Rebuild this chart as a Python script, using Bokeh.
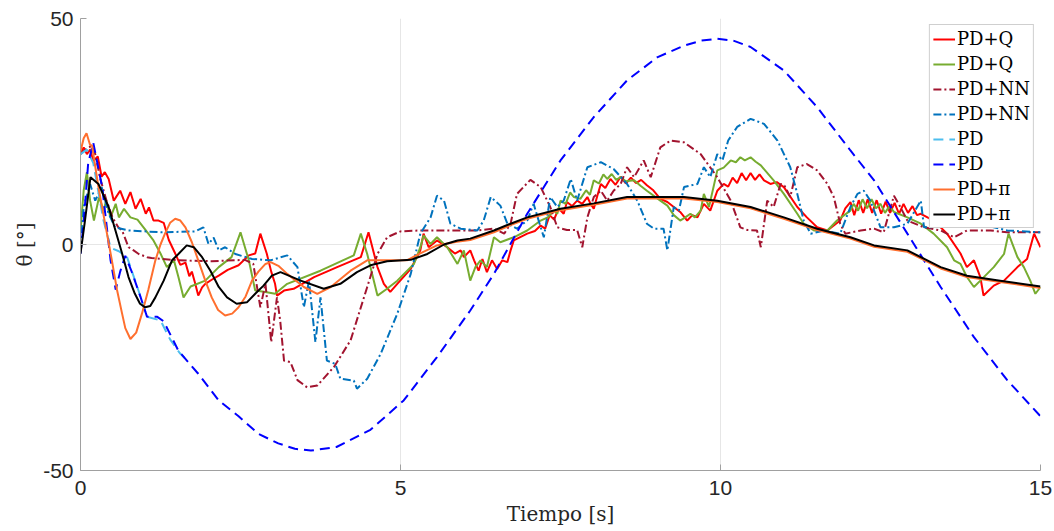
from bokeh.plotting import figure
from bokeh.models import Range1d, FixedTicker, Legend, LegendItem, PrintfTickFormatter
from bokeh.embed import file_html
from bokeh.resources import INLINE

# ---- data ----
t_red = [0.00,0.05,0.10,0.15,0.20,0.27,0.33,0.38,0.44,0.52,0.62,0.70,0.78,0.86,0.94,1.02,1.07,1.14,1.22,1.30,1.38,1.48,1.56,1.64,1.70,1.74,1.79,1.84,1.90,1.95,2.05,2.16,2.30,2.47,2.63,2.73,2.81,2.91,2.98,3.04,3.07,3.18,3.33,3.65,4.01,4.38,4.50,4.64,4.74,4.84,4.95,5.16,5.31,5.36,5.44,5.57,5.73,5.85,5.94,5.99,6.09,6.15,6.22,6.28,6.35,6.43,6.51,6.59,6.67,6.72,6.77,6.98,7.10,7.19,7.26,7.33,7.40,7.47,7.55,7.60,7.68,7.76,7.84,7.92,7.97,8.02,8.08,8.13,8.20,8.28,8.36,8.44,8.52,8.60,8.68,8.76,8.85,8.95,9.06,9.17,9.27,9.37,9.48,9.56,9.64,9.74,9.84,9.95,10.05,10.12,10.19,10.26,10.33,10.40,10.47,10.54,10.61,10.68,10.78,10.88,10.99,11.20,11.35,11.51,11.67,11.77,11.87,11.95,12.03,12.09,12.16,12.23,12.30,12.37,12.44,12.51,12.58,12.65,12.72,12.79,12.86,12.93,13.00,13.07,13.13,13.33,13.54,13.75,13.85,13.96,14.06,14.11,14.27,14.43,14.64,14.79,14.90,15.00]
v_red = [20,21.5,20,21,18.5,19.5,15,16,14.5,9.7,11.9,9.0,11.6,7.9,10.1,6.8,8.2,5.3,5.3,4.8,1,-2,-4.5,-4,-7,-6,-8.5,-11.3,-9.5,-8.7,-7.8,-6.9,-5.6,-4.6,-2.4,-2,2.4,-2,-6,-8.7,-11.3,-10.2,-9.8,-7.2,-5,-2.8,2.7,-5,-8.7,-10.5,-8.7,-5.4,-1.3,2.4,-0.6,0.9,-0.6,-2,-1.3,-2.8,-1.3,-3.5,-5.8,-3.2,-6.1,-3.5,-5.4,-3.5,-3.9,-1.3,0.9,2.4,3.0,4.2,3.5,6.5,5.5,8,6.8,9.4,8.5,9.7,9.0,10.5,9,7.9,11,13.4,12.5,14.5,13.2,15,13.5,14.8,13.6,14.3,13.1,12,10.1,9.4,8.3,7.2,5.3,6.5,6.0,9,7.5,11.9,13.4,12.8,14.8,13.6,15.8,14.2,15.8,14.3,15.5,14.2,13.4,13.8,12.7,8.3,6,3.8,3.1,4.2,5.3,8,9.4,6.5,9.8,7,10,7,9.8,6.8,9.5,7,9.2,6.8,9,7,8.5,6.5,6.8,5.3,2.4,-2,-5,-3.5,-7.2,-11.3,-9.1,-8,-5,-3.2,2.4,-0.6]

t_green = [0,0.05,0.10,0.15,0.21,0.29,0.36,0.40,0.47,0.55,0.60,0.68,0.78,0.89,1.0,1.14,1.25,1.35,1.46,1.53,1.61,1.72,1.95,2.16,2.36,2.50,2.63,2.73,2.89,3.04,3.23,3.75,4.27,4.38,4.48,4.64,4.79,4.95,5.21,5.31,5.36,5.47,5.57,5.73,5.89,5.99,6.09,6.17,6.25,6.35,6.46,6.56,6.77,6.98,7.19,7.30,7.40,7.45,7.50,7.58,7.65,7.71,7.81,7.90,7.96,8.02,8.10,8.17,8.23,8.30,8.37,8.44,8.52,8.65,8.75,8.85,9.06,9.17,9.27,9.37,9.45,9.53,9.60,9.69,9.74,9.82,9.95,10.05,10.16,10.24,10.31,10.38,10.47,10.55,10.63,10.83,10.99,11.2,11.3,11.46,11.67,11.82,12.03,12.08,12.15,12.22,12.29,12.36,12.43,12.50,12.57,12.64,12.71,12.92,13.13,13.33,13.54,13.65,13.75,13.85,13.96,14.06,14.27,14.43,14.50,14.64,14.74,14.84,14.92,15.0]
v_green = [3,12,16,9.7,5.3,10.5,7.5,9.6,6,9,6,7.9,6,5.5,3.5,0.9,-2,-5,-3.5,-7.2,-11.7,-9.3,-8,-5,-2.8,2.7,-3.5,-10.2,-10.5,-10.9,-8.7,-5.8,-2.4,2.4,-2.1,-11.3,-9.8,-8,-4.3,-0.6,2,0.1,1.6,-0.6,-4.3,-1.3,-8,-5,-3.5,-5,1.6,0.5,1.6,3.1,5.3,6,7.5,6.8,9.7,9,11.5,10.5,10.1,12,11,14.2,13.5,15.5,14.5,15.6,14.3,14.9,14,14.2,13,11.9,9.7,8.6,6.5,5.3,6,6.8,6,7.5,11.2,8.3,16.4,17,18.6,18.2,19.3,18.6,19.3,18.3,17.5,14.2,11.2,6.8,4.6,3.1,3.1,5.3,7.5,9,7.5,10,8,10,8,9,7,8.5,7.2,6,4.6,2.4,-0.6,-3.5,-4.3,-7.2,-9.4,-8,-5,-2.1,2.4,-2.8,-5,-8,-10.9,-9.4]

t_maroon = [0,0.08,0.13,0.18,0.23,0.31,0.40,0.50,0.59,0.65,0.75,0.83,0.91,1.04,1.11,1.53,2.05,2.57,2.70,2.81,2.89,2.98,3.07,3.12,3.18,3.28,3.39,3.54,3.70,3.96,4.22,4.48,4.64,4.79,5.0,5.31,5.78,6.2,6.46,6.62,6.72,6.82,7.03,7.19,7.34,7.45,7.6,7.76,7.84,7.92,8.02,8.13,8.23,8.33,8.44,8.54,8.65,8.80,8.91,9.06,9.22,9.43,9.69,9.95,10.16,10.31,10.42,10.57,10.63,10.73,10.83,10.94,11.0,11.09,11.2,11.35,11.51,11.67,11.77,11.87,11.95,12.19,12.4,12.55,12.71,12.81,12.92,13.18,13.44,13.65,13.85,14.22,14.48,15.0]
v_maroon = [20,21,21.5,21.8,20,14.5,10,6,3.8,3.1,-0.6,-1.3,-2.1,-2.8,-3,-3.5,-3.7,-3.4,-4.3,-13.9,-8.7,-21.6,-11.7,-16.8,-25.7,-26,-30,-31.6,-31.2,-27.1,-21.2,-9.4,-2.1,1.6,2.9,3.1,3.1,3.1,3.5,2.4,4.6,11.2,14.3,12.7,8.3,3.8,3.2,3.2,-0.6,6,10.5,11.9,9.7,11.9,13.4,17.1,14.9,18.6,14.9,21.5,23,22.6,20,14.9,9.7,3.8,3.2,3.1,-0.6,9.7,8.3,13.4,13,10.5,17.1,17.8,16.4,13.4,10.5,4.6,2.4,3.1,3.5,2.7,10.8,8.3,5.3,3.8,3.1,1.6,3.1,3.1,2.7,2.7]

t_blue = [0,0.05,0.15,0.23,0.33,0.44,0.54,0.75,1.27,1.79,1.92,2.0,2.08,2.16,2.26,2.42,2.68,2.97,3.23,3.39,3.49,3.57,3.67,3.75,3.85,3.98,4.06,4.27,4.32,4.48,4.69,4.95,5.16,5.31,5.47,5.57,5.68,5.78,5.94,6.2,6.3,6.41,6.56,6.67,6.82,6.98,7.08,7.19,7.24,7.34,7.45,7.55,7.66,7.76,7.92,8.13,8.33,8.54,8.7,8.85,8.96,9.11,9.17,9.27,9.35,9.43,9.64,9.74,9.84,9.95,10.03,10.12,10.26,10.47,10.68,10.89,11.09,11.2,11.3,11.41,11.62,11.87,12.03,12.14,12.24,12.34,12.5,12.71,12.92,13.13,13.18,13.33,13.45,13.54,13.65,13.75,13.9,14.06,14.27,14.48,15.0]
v_blue = [-1,8.3,13.4,9.7,12.7,6.8,3.8,3.1,2.7,2.9,3.8,0.1,1.5,-1.3,-0.6,-2.1,-3.2,-3.5,-2.4,-5,-13.9,-8,-21.6,-11.7,-25.7,-26.4,-29.7,-30.1,-31.9,-29.7,-24.2,-15.3,-6.5,2.4,6,10.8,9.7,4.6,3.5,3.1,5.3,10.5,8.6,4.6,3.5,5.3,9,3.8,1.6,10.5,8.3,9.7,14.5,9.7,17.1,18.2,16.7,13.4,9.7,4.6,3.5,3.5,-1.3,8.3,7.5,12.7,13.4,17.1,14.9,20,18.6,23,26,27.8,26.7,23,17.1,11.2,5.3,2.4,3.1,2.4,8.3,11.2,11.9,9.7,3.8,3.8,4.6,9.7,3.8,3.8,6,4,6.5,4.6,6,4.6,3.8,3.1,2.7]

t_lblue = [0,0.1,0.2,0.3,0.36,0.47,0.6,0.73,0.89,1.04,1.25,1.4,1.55,1.67]
v_lblue = [20,21,18,10,5.3,-0.7,-1.5,-2.9,-9.5,-16,-16.8,-21,-24,-25.7]

t_dblue = [0,0.05,0.12,0.2,0.34,0.47,0.55,0.62,0.7,0.8,0.94,1.04,1.2,1.3,1.53,1.84,2.16,2.47,2.78,3.09,3.35,3.6,4.0,4.53,5.05,5.57,6.09,6.46,6.98,7.5,8.02,8.54,9.01,9.43,9.7,9.95,10.2,10.47,10.99,11.51,12.03,12.4,12.92,13.44,13.96,14.48,15.0]
v_dblue = [-2,5,18,22.5,12.6,-3.5,-10,-6,-2.5,-6,-11.7,-16,-16,-17,-23.5,-28.6,-34.5,-38,-41.9,-44,-45.2,-45.6,-44.8,-41,-34.5,-24.9,-14.6,-6.5,6.8,18.6,28.2,36.3,41.4,44,45.1,45.5,45.1,43.7,38.5,30.4,20.8,14.2,2.4,-9.4,-20.5,-30,-38]

t_orange = [0,0.05,0.094,0.15,0.18,0.28,0.38,0.49,0.57,0.65,0.70,0.78,0.87,0.96,1.06,1.17,1.25,1.32,1.40,1.48,1.56,1.64,1.74,1.84,1.95,2.05,2.15,2.26,2.37,2.47,2.58,2.68,2.78,2.89,2.97,3.1,3.23,3.49,3.7,3.91,4.22,4.48,4.79,5.1,5.3,5.57,5.88,6.09,6.46,6.72,6.98,7.5,8.02,8.54,9.06,9.43,9.95,10.47,10.99,11.51,12.03,12.4,12.92,13.44,13.85,14.37,15.0]
v_orange = [20.6,23.5,24.6,22,21.9,12.7,5,-3.5,-10,-15.3,-18.5,-20.9,-19.5,-15.3,-10,-3.5,0,2.4,4.8,5.7,5.3,3.8,0.5,-3.5,-8,-11.7,-14.5,-15.7,-15.3,-13.9,-11.5,-8,-6,-4.3,-3.9,-4.8,-6.5,-9.4,-10.9,-9.4,-5.8,-3.5,-3.5,-3.5,-2,-0.2,0.6,1.0,2.7,4.3,5.7,7.6,8.8,10.2,10.2,10.2,9.4,8.0,5.7,3.2,1.3,-0.5,-1.6,-5.3,-7.2,-8.3,-9.6]

t_black = [0,0.07,0.156,0.28,0.44,0.65,0.75,0.85,0.93,1.01,1.09,1.17,1.30,1.43,1.53,1.66,1.77,1.9,2.03,2.16,2.29,2.44,2.6,2.73,2.86,2.99,3.125,3.44,3.8,4.06,4.32,4.53,4.79,5.16,5.42,5.68,5.89,6.09,6.46,6.72,6.98,7.5,8.02,8.54,9.06,9.43,9.95,10.47,10.99,11.51,12.03,12.4,12.92,13.44,13.85,14.37,15.0]
v_black = [-2,5.3,14.9,13.4,8.3,-2,-7.2,-10.9,-13.1,-13.9,-13.6,-11.7,-8,-3.5,-2.1,-0.2,-0.6,-2.8,-5.8,-9.4,-11.7,-13.1,-12.8,-10.9,-9.1,-6.9,-6.1,-8,-9.8,-8.7,-6.1,-4.6,-3.7,-3.4,-2.1,0,0.9,1.3,3.1,4.6,6.0,7.9,9.1,10.5,10.5,10.5,9.7,8.3,6,3.5,1.6,-0.2,-1.3,-5,-6.9,-8,-9.3]

x_ticks = [0, 5, 10, 15]
y_ticks = [-50, 0, 50]
labels = ["PD+Q", "PD+Q", "PD+NN", "PD+NN", "PD", "PD", "PD+\u03c0", "PD+\u03c0"]

# ---- figure ----
p = figure(width=1054, height=531, output_backend="svg", toolbar_location=None,
           x_range=Range1d(0, 15), y_range=Range1d(-50, 50),
           min_border_left=80, min_border_right=14, min_border_top=18, min_border_bottom=61)
p.outline_line_color = None
p.background_fill_color = "white"
p.border_fill_color = "white"

for ax in (p.xaxis[0], p.yaxis[0]):
    ax.formatter = PrintfTickFormatter(format="%d")
    ax.major_label_text_font = "Liberation Sans"
    ax.major_label_text_font_size = "21px"
    ax.major_label_text_color = "#262626"
    ax.axis_line_color = "#a0a0a0"
    ax.major_tick_line_color = "#a0a0a0"
    ax.major_tick_in = 6
    ax.major_tick_out = 0
    ax.minor_tick_line_color = None
    ax.axis_label_text_font = "DejaVu Serif"
    ax.axis_label_text_font_size = "20px"
    ax.axis_label_text_font_style = "normal"
    ax.axis_label_text_color = "#262626"

p.xaxis.ticker = FixedTicker(ticks=x_ticks)
p.yaxis.ticker = FixedTicker(ticks=y_ticks)
p.xaxis.major_label_standoff = 10
p.yaxis.major_label_standoff = 7
p.xaxis.axis_label = "Tiempo [s]"
p.xaxis.axis_label_standoff = 4
p.yaxis.axis_label = "\u03b8 [\u00b0]"
p.yaxis.axis_label_standoff = 3

p.xgrid.ticker = FixedTicker(ticks=x_ticks)
p.ygrid.ticker = FixedTicker(ticks=y_ticks)
p.grid.grid_line_color = "#e6e6e6"
p.grid.grid_line_width = 1

W = 2
r1 = p.line(t_red, v_red, line_color="#ff0000", line_width=W)
r2 = p.line(t_green, v_green, line_color="#77ac30", line_width=W)
r3 = p.line(t_maroon, v_maroon, line_color="#a2142f", line_width=W, line_dash="8 3 2 3")
r4 = p.line(t_blue, v_blue, line_color="#0072bd", line_width=W, line_dash="8 3 2 3")
r5 = p.line(t_lblue, v_lblue, line_color="#4dbeee", line_width=W, line_dash="10 6")
r6 = p.line(t_dblue, v_dblue, line_color="#0000ff", line_width=W, line_dash="10 6")
r7 = p.line(t_orange, v_orange, line_color="#ff6f2e", line_width=W)
r8 = p.line(t_black, v_black, line_color="#000000", line_width=W)

items = [LegendItem(label=l, renderers=[r]) for l, r in zip(labels, [r1, r2, r3, r4, r5, r6, r7, r8])]
legend = Legend(items=items, location="top_right")
legend.margin = 6
legend.padding = 3
legend.spacing = 4
legend.glyph_width = 22
legend.glyph_height = 20
legend.label_height = 20
legend.label_standoff = 2
legend.label_text_font = "DejaVu Serif"
legend.label_text_font_size = "18px"
legend.label_text_color = "#000000"
legend.border_line_color = "#a0a0a0"
legend.border_line_width = 1
legend.background_fill_alpha = 1.0
p.add_layout(legend, "center")

open("out.html", "w").write(file_html(p, INLINE))
